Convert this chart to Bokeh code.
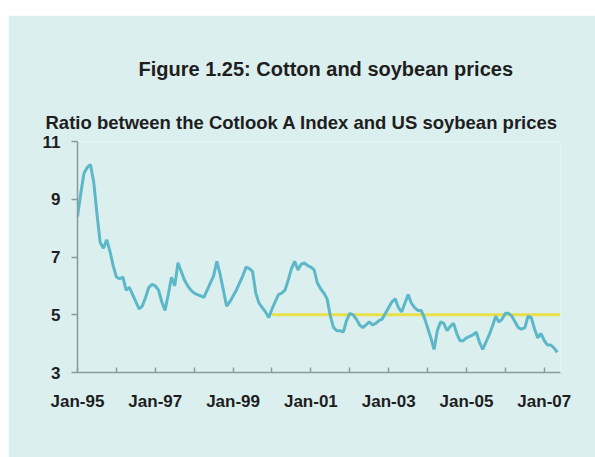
from bokeh.plotting import figure
from bokeh.models import FixedTicker, Title, Range1d, Spacer
from bokeh.layouts import column, row
from bokeh.embed import file_html
from bokeh.resources import INLINE

# Monthly ratio, Jan-1995 (month 0) .. May-2007 (month 148)
ratio = [
    8.4, 9.2, 9.9, 10.1, 10.2, 9.6, 8.5, 7.5, 7.3, 7.6, 7.2, 6.7,
    6.3, 6.25, 6.3, 5.85, 5.95, 5.7, 5.45, 5.2, 5.3, 5.6, 5.95, 6.05,
    6.0, 5.85, 5.45, 5.15, 5.7, 6.3, 6.0, 6.8, 6.5, 6.2, 6.0, 5.85,
    5.75, 5.7, 5.65, 5.6, 5.85, 6.1, 6.35, 6.85, 6.4, 5.85, 5.3, 5.45,
    5.65, 5.85, 6.1, 6.35, 6.65, 6.6, 6.5, 5.75, 5.4, 5.25, 5.1, 4.9,
    5.2, 5.45, 5.7, 5.75, 5.85, 6.2, 6.6, 6.85, 6.55, 6.75, 6.8, 6.7,
    6.65, 6.55, 6.1, 5.9, 5.75, 5.55, 4.95, 4.55, 4.45, 4.45, 4.4, 4.8,
    5.05, 5.0, 4.85, 4.65, 4.55, 4.65, 4.75, 4.65, 4.7, 4.8, 4.85, 5.05,
    5.25, 5.45, 5.55, 5.25, 5.1, 5.4, 5.7, 5.4, 5.25, 5.15, 5.15, 4.9,
    4.55, 4.2, 3.8, 4.45, 4.75, 4.7, 4.45, 4.6, 4.7, 4.35, 4.1, 4.1,
    4.2, 4.25, 4.3, 4.4, 4.05, 3.8, 4.05, 4.3, 4.6, 4.95, 4.75, 4.85,
    5.05, 5.05, 4.95, 4.75, 4.55, 4.5, 4.55, 4.95, 4.9, 4.5, 4.2, 4.35,
    4.1, 3.95, 3.95, 3.85, 3.7,
]
months = list(range(len(ratio)))

# Reference level (yellow) from Jan-2000 to end of axis
ref_months = [60, 149]
ref_values = [5, 5]

year_ticks = [0, 12, 24, 36, 48, 60, 72, 84, 96, 108, 120, 132, 144]
year_labels = ["Jan-95", "", "Jan-97", "", "Jan-99", "", "Jan-01", "",
               "Jan-03", "", "Jan-05", "", "Jan-07"]
y_ticks = [3, 5, 7, 9, 11]

title_text = "Figure 1.25: Cotton and soybean prices"
subtitle_text = "Ratio between the Cotlook A Index and US soybean prices"

BG = "#dcefef"
LINE = "#5cb8c8"
YELLOW = "#e8e04a"
TEXT = "#1e1e1e"
FONT = "Liberation Sans"

p = figure(width=587, height=442, output_backend="svg", toolbar_location=None,
           x_range=Range1d(0, 149), y_range=Range1d(3, 11),
           min_border_left=69, min_border_right=35, min_border_top=126,
           min_border_bottom=85)
p.background_fill_color = BG
p.border_fill_color = BG
p.outline_line_color = None
p.grid.visible = False
p.title.visible = False

sub = Title(text=subtitle_text, text_font=FONT, text_font_size="18.5px",
            text_font_style="bold", text_color=TEXT, align="left",
            offset=-32, standoff=18)
p.add_layout(sub, "above")
main = Title(text=title_text, text_font=FONT, text_font_size="20px",
             text_font_style="bold", text_color=TEXT, align="left",
             offset=61, standoff=42)
p.add_layout(main, "above")

p.line(ref_months, ref_values, line_color=YELLOW, line_width=3)
p.line(months, ratio, line_color=LINE, line_width=3)

p.xaxis.ticker = FixedTicker(ticks=year_ticks)
p.xaxis.major_label_overrides = {t: l for t, l in zip(year_ticks, year_labels)}
p.xaxis.minor_tick_line_color = None
p.xaxis.major_tick_in = 5
p.xaxis.major_tick_out = 0
p.xaxis.major_label_standoff = 19

p.yaxis.ticker = FixedTicker(ticks=y_ticks)
p.yaxis.minor_tick_line_color = None
p.yaxis.major_tick_in = 0
p.yaxis.major_tick_out = 6
p.yaxis.major_label_standoff = 11

for ax in (p.xaxis, p.yaxis):
    ax.axis_line_color = "#8a9a9a"
    ax.axis_line_width = 1.5
    ax.major_tick_line_color = "#8a9a9a"
    ax.major_tick_line_width = 1.5
    ax.major_label_text_font = FONT
    ax.major_label_text_font_size = "17px"
    ax.major_label_text_font_style = "bold"
    ax.major_label_text_color = TEXT

layout = column(Spacer(width=595, height=15),
                row(Spacer(width=8, height=442), p))
open("out.html", "w").write(file_html(layout, INLINE))
